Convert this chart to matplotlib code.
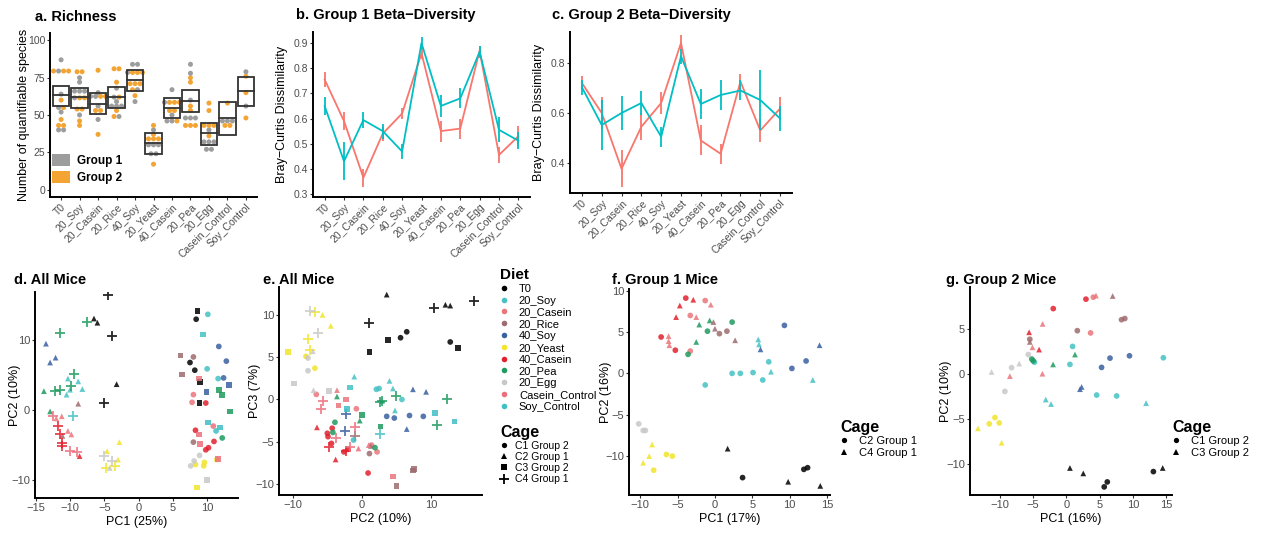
import numpy as np
import matplotlib
matplotlib.use("Agg")
import matplotlib.pyplot as plt
from matplotlib.lines import Line2D
from matplotlib.patches import Patch, Rectangle

plt.rcParams['font.family'] = ['Liberation Sans', 'DejaVu Sans']

W, H = 1266, 534

diets = ["T0", "20_Soy", "20_Casein", "20_Rice", "40_Soy", "20_Yeast",
         "40_Casein", "20_Pea", "20_Egg", "Casein_Control", "Soy_Control"]
diet_colors = ["#000000", "#45C1C3", "#EA767C", "#9E6B6E", "#3A60A0", "#F2E52A",
               "#E3202E", "#1E9A5E", "#C8C8C8", "#EC6E7C", "#3FBFC6"]

# richness per diet, group 1 (grey) and group 2 (orange)
rich_g1 = [[87, 80, 64, 55, 52, 41, 39],
           [75, 72, 66, 66, 66, 61, 50],
           [65, 62, 62, 56, 47],
           [68, 62, 59, 56, 56, 56, 50],
           [85, 83, 78, 68, 59],
           [40, 30, 30, 30, 24, 24],
           [67, 58, 50, 45, 45],
           [84, 78, 60, 48, 48, 48],
           [40, 32, 32, 32, 27, 27],
           [46, 46, 46],
           [79, 56]]
rich_g2 = [[80, 80, 79, 60, 55, 47, 44, 42],
           [80, 78, 62, 62, 54, 54, 46, 43],
           [80, 63, 63, 53, 53, 37],
           [81, 81, 72, 62, 53, 48],
           [79, 79, 79, 72, 70, 70, 66, 63],
           [43, 37, 34, 34, 34, 17],
           [59, 59, 59, 53, 53, 47],
           [75, 72, 56, 53, 43, 43, 43],
           [58, 53, 43, 43, 43, 36],
           [58, 43, 43],
           [76, 65, 48]]
rich_mid = [63.5, 62, 57.4, 62, 73.6, 30.9, 54.5, 59.7, 37.6, 47.7, 65.8]
rich_lo = [56.1, 54.5, 50.5, 54.5, 66.4, 24.0, 47.7, 52.3, 30.2, 36.9, 56.1]
rich_hi = [69.6, 68.0, 64.6, 69.0, 80.4, 38.0, 61.3, 66.9, 44.8, 58.6, 75.5]

# Bray-Curtis dissimilarity, mean and error per diet, two cages per group
g1_red = [0.755, 0.59, 0.365, 0.54, 0.62, 0.86, 0.55, 0.56, 0.87, 0.455, 0.53]
g1_red_err = [0.03, 0.035, 0.036, 0.028, 0.022, 0.025, 0.042, 0.04, 0.02, 0.03, 0.04]
g1_teal = [0.65, 0.43, 0.594, 0.55, 0.469, 0.9, 0.65, 0.68, 0.865, 0.555, 0.512]
g1_teal_err = [0.035, 0.075, 0.03, 0.03, 0.03, 0.025, 0.045, 0.04, 0.025, 0.05, 0.035]
g2_red = [0.72, 0.60, 0.377, 0.545, 0.64, 0.88, 0.49, 0.437, 0.726, 0.53, 0.618]
g2_red_err = [0.028, 0.065, 0.075, 0.055, 0.045, 0.03, 0.06, 0.04, 0.03, 0.045, 0.045]
g2_teal = [0.703, 0.552, 0.60, 0.64, 0.505, 0.827, 0.636, 0.672, 0.69, 0.652, 0.578]
g2_teal_err = [0.03, 0.10, 0.067, 0.047, 0.04, 0.03, 0.06, 0.06, 0.04, 0.12, 0.05]

# PCA scores: (diet, cage, x, y)
pca_all_12 = [
    ("T0", "C4", -4.4, 16.4), ("T0", "C2", -6.5, 13.1), ("T0", "C2", -6.0, 12.5),
    ("T0", "C4", -3.9, 10.6), ("T0", "C2", -3.2, 3.7), ("T0", "C4", -5.1, 1.0),
    ("T0", "C3", 8.6, 14.2), ("T0", "C1", 8.4, 13.0), ("T0", "C1", 7.5, 6.8),
    ("T0", "C1", 8.2, 5.7), ("T0", "C3", 9.0, 4.0), ("T0", "C3", 8.9, 1.0),
    ("20_Pea", "C4", -7.5, 12.6), ("20_Pea", "C4", -11.5, 11.0), ("20_Pea", "C4", -9.4, 5.1),
    ("20_Pea", "C4", -9.9, 3.4), ("20_Pea", "C4", -12.2, 2.7), ("20_Pea", "C4", -11.4, 2.9),
    ("20_Pea", "C2", -13.8, 2.7), ("20_Pea", "C2", -12.9, -0.2), ("20_Pea", "C3", 11.7, 2.9),
    ("20_Pea", "C3", 12.2, 2.1), ("20_Pea", "C3", 13.3, -0.2), ("20_Pea", "C1", 12.2, -4.0),
    ("40_Soy", "C2", -13.5, 9.5), ("40_Soy", "C2", -12.1, 7.5), ("40_Soy", "C2", -12.9, 6.8),
    ("40_Soy", "C1", 11.7, 9.1), ("40_Soy", "C1", 12.8, 7.0), ("40_Soy", "C1", 12.4, 4.6),
    ("40_Soy", "C3", 13.2, 3.6), ("40_Soy", "C3", 9.9, 2.6),
    ("20_Soy", "C2", -10.3, 4.5), ("20_Soy", "C2", -8.8, 4.1), ("20_Soy", "C2", -8.2, 3.0),
    ("20_Soy", "C2", -10.5, 2.2), ("20_Soy", "C2", -10.0, 2.9), ("20_Soy", "C4", -9.5, -0.9),
    ("20_Soy", "C1", 10.1, 13.7), ("20_Soy", "C3", 9.4, 10.8), ("20_Soy", "C1", 10.0, 5.9),
    ("20_Soy", "C1", 11.6, 4.5),
    ("Soy_Control", "C3", 10.1, -1.8), ("Soy_Control", "C3", 11.9, -2.5),
    ("Soy_Control", "C1", 11.3, -3.0),
    ("20_Rice", "C2", -8.8, 0.9), ("20_Rice", "C2", -11.1, -3.7), ("20_Rice", "C3", 6.1, 7.8),
    ("20_Rice", "C1", 8.0, 7.6), ("20_Rice", "C3", 6.3, 5.1), ("20_Rice", "C1", 8.0, -4.6),
    ("40_Casein", "C4", -11.7, -2.3), ("40_Casein", "C4", -11.5, -3.5),
    ("40_Casein", "C4", -11.2, -4.7), ("40_Casein", "C4", -11.2, -5.2),
    ("40_Casein", "C2", -8.6, -6.6), ("40_Casein", "C1", 9.8, 1.0), ("40_Casein", "C1", 8.3, -2.9),
    ("40_Casein", "C1", 11.0, -4.5), ("40_Casein", "C1", 9.8, -5.7), ("40_Casein", "C1", 10.2, -5.4),
    ("20_Casein", "C2", -11.2, -0.9), ("20_Casein", "C2", -12.0, -1.2), ("20_Casein", "C2", -10.3, -3.0),
    ("20_Casein", "C2", -9.8, -3.5), ("20_Casein", "C3", 8.8, 4.5), ("20_Casein", "C1", 8.0, 2.2),
    ("20_Casein", "C1", 7.8, 1.1),
    ("Casein_Control", "C4", -12.5, -0.9), ("Casein_Control", "C4", -10.0, -5.9),
    ("Casein_Control", "C4", -9.0, -6.0), ("Casein_Control", "C3", 8.8, -3.5),
    ("Casein_Control", "C3", 9.0, -4.9), ("Casein_Control", "C1", 10.9, -2.3),
    ("Casein_Control", "C3", 11.6, -7.0),
    ("20_Yeast", "C2", -2.8, -4.6), ("20_Yeast", "C2", -4.6, -5.9), ("20_Yeast", "C2", -3.0, -7.1),
    ("20_Yeast", "C4", -4.7, -8.3), ("20_Yeast", "C4", -3.4, -8.0), ("20_Yeast", "C1", 8.3, -7.8),
    ("20_Yeast", "C1", 9.6, -7.5), ("20_Yeast", "C1", 9.5, -8.0), ("20_Yeast", "C3", 8.5, -11.1),
    ("20_Yeast", "C1", 11.4, -7.1),
    ("20_Egg", "C4", -5.1, -6.6), ("20_Egg", "C4", -3.8, -7.3), ("20_Egg", "C2", -4.2, -8.3),
    ("20_Egg", "C1", 7.6, -8.0), ("20_Egg", "C1", 8.1, -7.3), ("20_Egg", "C1", 8.9, -6.5),
    ("20_Egg", "C3", 10.0, -10.0),
]

pca_all_23 = [
    ("T0", "C2", 3.6, 12.4), ("T0", "C4", 10.4, 10.8), ("T0", "C2", 12.1, 11.2),
    ("T0", "C2", 12.8, 11.1), ("T0", "C4", 16.2, 11.6), ("T0", "C4", 1.1, 9.0),
    ("T0", "C1", 6.5, 8.0), ("T0", "C1", 5.6, 7.3), ("T0", "C3", 3.8, 7.0),
    ("T0", "C3", 1.1, 5.6), ("T0", "C1", 12.8, 6.8), ("T0", "C3", 13.9, 6.1),
    ("20_Egg", "C4", -7.5, 10.5), ("20_Egg", "C4", -6.4, 7.9), ("20_Egg", "C1", -7.8, 4.9),
    ("20_Egg", "C1", -7.8, 3.4), ("20_Egg", "C2", -7.1, 5.7), ("20_Egg", "C3", -9.8, 1.9),
    ("20_Egg", "C3", -4.8, 1.0), ("20_Egg", "C2", -7.0, 1.1),
    ("20_Yeast", "C4", -6.8, 10.4), ("20_Yeast", "C2", -5.7, 10.0), ("20_Yeast", "C2", -4.5, 8.7),
    ("20_Yeast", "C4", -7.8, 7.1), ("20_Yeast", "C4", -7.5, 5.9), ("20_Yeast", "C3", -10.7, 5.6),
    ("20_Yeast", "C1", -6.8, 3.7), ("20_Yeast", "C1", -8.1, 5.1),
    ("20_Soy", "C2", -1.1, 2.7), ("20_Soy", "C2", 4.0, 2.2), ("20_Soy", "C2", 4.5, 1.3),
    ("20_Soy", "C1", 2.1, 1.2), ("20_Soy", "C1", 2.5, 1.3), ("20_Soy", "C2", 2.9, -0.2),
    ("20_Soy", "C2", 4.8, -1.3), ("20_Soy", "C1", 5.8, 0.0), ("20_Soy", "C3", -1.7, 1.4),
    ("20_Soy", "C4", 2.6, -4.1),
    ("Soy_Control", "C3", 10.6, -1.6), ("Soy_Control", "C3", 13.4, -2.6),
    ("Soy_Control", "C1", -1.2, -4.8), ("Soy_Control", "C3", -2.2, -1.1),
    ("40_Soy", "C2", 7.4, 1.2), ("40_Soy", "C2", 9.3, 0.9), ("40_Soy", "C1", 3.6, -2.0),
    ("40_Soy", "C1", 4.7, -2.2), ("40_Soy", "C1", 6.9, -1.9), ("40_Soy", "C1", 8.9, -2.0),
    ("40_Soy", "C2", 6.5, -3.5), ("40_Soy", "C4", -2.3, -1.7), ("40_Soy", "C4", -2.5, -3.7),
    ("20_Pea", "C4", 2.9, -0.2), ("20_Pea", "C4", 2.6, -0.35), ("20_Pea", "C4", 10.9, -3.0),
    ("20_Pea", "C4", 12.4, 0.0), ("20_Pea", "C4", 5.0, 0.4), ("20_Pea", "C3", 0.0, -1.8),
    ("20_Pea", "C3", 2.7, -3.2), ("20_Pea", "C2", -0.3, -2.5), ("20_Pea", "C2", -3.6, 0.35),
    ("20_Pea", "C1", -3.9, -2.7), ("20_Pea", "C1", -4.2, -3.9), ("20_Pea", "C1", 1.9, -5.7),
    ("20_Casein", "C2", -3.6, 1.1), ("20_Casein", "C3", -3.4, -0.7), ("20_Casein", "C3", -2.3, 0.0),
    ("20_Casein", "C1", -0.8, -1.1), ("20_Casein", "C1", 1.4, -5.4), ("20_Casein", "C1", 2.2, -6.2),
    ("20_Casein", "C3", 4.5, -9.1), ("20_Casein", "C1", -6.6, 0.6),
    ("Casein_Control", "C4", -5.7, -0.2), ("Casein_Control", "C4", -5.9, -1.1),
    ("Casein_Control", "C4", -3.7, -4.6), ("Casein_Control", "C4", -1.7, -5.6),
    ("Casein_Control", "C4", -1.0, -3.3), ("Casein_Control", "C2", -0.5, -5.8),
    ("Casein_Control", "C2", 1.0, -5.4),
    ("40_Casein", "C2", -6.5, -3.3), ("40_Casein", "C2", -3.8, -7.1), ("40_Casein", "C1", -5.0, -4.0),
    ("40_Casein", "C1", -4.9, -4.4), ("40_Casein", "C1", -4.3, -3.4), ("40_Casein", "C1", -4.4, -5.2),
    ("40_Casein", "C4", -4.7, -5.6), ("40_Casein", "C4", -2.3, -6.1), ("40_Casein", "C1", -2.6, -6.2),
    ("40_Casein", "C1", -2.0, -5.9), ("40_Casein", "C1", 0.9, -8.7),
    ("20_Rice", "C1", 1.1, -6.4), ("20_Rice", "C3", 5.0, -10.2), ("20_Rice", "C3", 7.5, -8.2),
    ("20_Rice", "C3", 7.4, -8.4), ("20_Rice", "C4", -1.0, -4.3), ("20_Rice", "C2", 1.3, -5.5),
]

pca_g1 = [
    ("40_Casein", "C2", -3.9, 9.1), ("40_Casein", "C4", -2.9, 8.9), ("40_Casein", "C4", -4.7, 8.2),
    ("40_Casein", "C4", -5.2, 6.8), ("40_Casein", "C2", -7.2, 4.4), ("40_Casein", "C2", -5.3, 2.8),
    ("20_Casein", "C2", -1.3, 8.8), ("20_Casein", "C4", -0.55, 8.3), ("20_Casein", "C2", -3.3, 7.0),
    ("20_Casein", "C4", -2.5, 6.8), ("20_Casein", "C4", -6.2, 4.5), ("20_Casein", "C4", -6.2, 3.9),
    ("20_Casein", "C4", -6.1, 3.4), ("20_Casein", "C2", -3.3, 2.7),
    ("20_Pea", "C4", -2.1, 5.9), ("20_Pea", "C4", -0.7, 6.4), ("20_Pea", "C2", -1.0, 5.1),
    ("20_Pea", "C2", 2.3, 6.2), ("20_Pea", "C2", -3.6, 2.3), ("20_Pea", "C4", -2.5, 3.8),
    ("20_Rice", "C4", -0.2, 6.2), ("20_Rice", "C4", 0.0, 5.4), ("20_Rice", "C2", 0.6, 4.8),
    ("20_Rice", "C2", 1.6, 5.1), ("20_Rice", "C4", 2.7, 4.0),
    ("20_Soy", "C2", -1.3, -1.4), ("20_Soy", "C2", 2.3, 0.0), ("20_Soy", "C2", 3.4, 0.0),
    ("20_Soy", "C2", 5.1, 0.1), ("20_Soy", "C2", 6.4, -0.8), ("20_Soy", "C2", 7.2, 1.4),
    ("20_Soy", "C4", 5.8, 4.1), ("20_Soy", "C4", 5.9, 3.5), ("20_Soy", "C4", 7.5, 0.2),
    ("20_Soy", "C4", 13.1, -0.8),
    ("40_Soy", "C4", 6.1, 2.9), ("40_Soy", "C4", 14.0, 3.4), ("40_Soy", "C2", 9.3, 5.8),
    ("40_Soy", "C2", 12.2, 1.5), ("40_Soy", "C2", 10.3, 0.6),
    ("20_Egg", "C2", -10.2, -6.1), ("20_Egg", "C2", -9.6, -6.9), ("20_Egg", "C2", -9.3, -6.9),
    ("20_Yeast", "C4", -8.4, -8.6), ("20_Yeast", "C4", -8.8, -10.0), ("20_Yeast", "C4", -9.6, -10.8),
    ("20_Yeast", "C2", -8.2, -11.7), ("20_Yeast", "C2", -6.5, -9.8), ("20_Yeast", "C2", -5.7, -10.0),
    ("T0", "C4", 1.7, -9.1), ("T0", "C2", 3.7, -12.6), ("T0", "C2", 11.9, -11.6),
    ("T0", "C2", 12.4, -11.4), ("T0", "C4", 9.8, -13.1), ("T0", "C4", 14.1, -13.6),
]

pca_g2 = [
    ("40_Casein", "C1", 2.95, 8.35), ("40_Casein", "C1", -1.97, 7.3), ("40_Casein", "C3", -5.6, 4.67),
    ("40_Casein", "C3", -4.1, 2.75),
    ("20_Casein", "C1", 4.06, 8.57), ("20_Casein", "C3", 4.46, 8.75), ("20_Casein", "C1", 3.65, 4.6),
    ("20_Casein", "C3", -3.57, 5.6), ("20_Casein", "C3", -5.1, 3.0), ("20_Casein", "C3", -3.6, 0.07),
    ("20_Casein", "C3", -8.5, -0.2),
    ("20_Rice", "C3", 6.97, 8.7), ("20_Rice", "C1", 8.3, 6.07), ("20_Rice", "C1", 8.8, 6.2),
    ("20_Rice", "C1", 1.65, 4.85), ("20_Rice", "C1", -5.5, 3.9), ("20_Rice", "C3", -5.5, 3.6),
    ("20_Egg", "C1", -5.73, 2.2), ("20_Egg", "C3", -11.25, 0.26), ("20_Egg", "C1", -8.24, 0.74),
    ("20_Egg", "C3", -7.1, 1.2), ("20_Egg", "C1", -9.25, -1.9),
    ("20_Pea", "C1", -5.2, 1.7), ("20_Pea", "C1", -5.0, 1.5), ("20_Pea", "C3", -2.0, 1.1),
    ("20_Pea", "C3", 1.3, 2.2),
    ("20_Soy", "C1", -4.8, 1.35), ("20_Soy", "C1", 0.94, 3.1), ("20_Soy", "C1", 0.54, 1.1),
    ("20_Soy", "C1", 4.56, -2.3), ("20_Soy", "C1", 7.57, -2.4), ("20_Soy", "C3", 12.0, -3.2),
    ("20_Soy", "C3", -3.1, -2.8), ("20_Soy", "C3", -2.3, -3.3), ("20_Soy", "C1", 14.6, 1.84),
    ("40_Soy", "C1", 6.57, 1.8), ("40_Soy", "C1", 9.5, 2.06), ("40_Soy", "C1", 5.3, 0.77),
    ("40_Soy", "C3", 2.3, -1.4), ("40_Soy", "C3", 2.05, -1.65),
    ("20_Yeast", "C3", -13.3, -6.0), ("20_Yeast", "C1", -11.6, -5.5), ("20_Yeast", "C1", -10.75, -4.8),
    ("20_Yeast", "C1", -10.1, -5.4), ("20_Yeast", "C3", -9.75, -7.6),
    ("T0", "C3", 0.54, -10.4), ("T0", "C3", 2.55, -11.0), ("T0", "C1", 5.7, -12.5),
    ("T0", "C1", 6.16, -11.95), ("T0", "C1", 13.1, -10.8), ("T0", "C3", 14.5, -10.4),
]

GREY, ORANGE = "#9D9D9D", "#F4A432"
RED, TEAL = "#F8766D", "#00BFC4"
TICK_C = "#4D4D4D"

fig = plt.figure(figsize=(W / 100, H / 100), dpi=100)


def px_axes(left, top, right, bottom):
    return fig.add_axes([left / W, 1 - bottom / H, (right - left) / W, (bottom - top) / H])


def classic(ax, size=8):
    for s in ("top", "right"):
        ax.spines[s].set_visible(False)
    for s in ("left", "bottom"):
        ax.spines[s].set_linewidth(1.4)
        ax.spines[s].set_color("black")
    ax.tick_params(length=2.5, width=0.8, color="#333333", labelcolor=TICK_C,
                   labelsize=size, pad=1)


def category_axis(ax):
    ax.set_xticks(range(len(diets)))
    ax.set_xticklabels(diets, rotation=45, ha="right", rotation_mode="anchor")
    ax.set_xlim(-0.6, len(diets) - 0.4)


def set_ylabel(ax, text, right_px, left_px, width_px):
    # place the y title by its right edge, in pixels
    ax.set_ylabel(text, fontsize=9)
    ax.yaxis.set_label_coords((right_px - left_px) / width_px, 0.5)


def dot_stack(g1, g2, bw):
    # ggplot-like dot density binning, groups stacked together within a bin
    vals = np.array(g1 + g2, float)
    grp = np.array([0] * len(g1) + [1] * len(g2))
    order = np.argsort(vals, kind="stable")
    xs, ys, gs = [], [], []
    i = 0
    while i < len(order):
        start = vals[order[i]]
        j = i
        while j < len(order) and vals[order[j]] < start + bw:
            j += 1
        members = order[i:j]
        centre = (vals[members].min() + vals[members].max()) / 2
        n = len(members)
        for k, m in enumerate(members):
            xs.append(k - (n - 1) / 2)
            ys.append(centre)
            gs.append(grp[m])
        i = j
    return np.array(xs), np.array(ys), np.array(gs)


# a. richness
ax = px_axes(50, 33, 257, 197)
classic(ax, 7.5)
category_axis(ax)
for i in range(len(diets)):
    dx, dy, dg = dot_stack(rich_g1[i], rich_g2[i], 2.6)
    cols = np.where(dg == 0, GREY, ORANGE)
    ax.scatter(i + dx * 0.27, dy, s=13, c=cols, edgecolors="none", zorder=2)
    ax.add_patch(Rectangle((i - 0.45, rich_lo[i]), 0.9, rich_hi[i] - rich_lo[i],
                           fill=False, ec="#333333", lw=1.3, zorder=3))
    ax.plot([i - 0.45, i + 0.45], [rich_mid[i]] * 2, color="#333333", lw=1.3, zorder=3)
ax.set_ylim(-5, 105)
ax.set_yticks([0, 25, 50, 75, 100])
set_ylabel(ax, "Number of quantifiable species", 30, 50, 207)
ax.legend(handles=[Patch(fc=GREY, ec="none", label="Group 1"),
                   Patch(fc=ORANGE, ec="none", label="Group 2")],
          loc="lower left", bbox_to_anchor=(0.01, 0.08), frameon=False,
          prop={"weight": "bold", "size": 8.5}, handlelength=1.5, handleheight=1.1,
          labelspacing=0.35, handletextpad=0.6, borderaxespad=0, borderpad=0)


def beta_panel(ax, red, red_err, teal, teal_err):
    x = np.arange(len(diets))
    for vals, err, col in ((red, red_err, RED), (teal, teal_err, TEAL)):
        vals, err = np.array(vals), np.array(err)
        ax.plot(x, vals, color=col, lw=1.3)
        ax.vlines(x, vals - err, vals + err, color=col, lw=1.3)
    classic(ax, 7.5)
    category_axis(ax)


# b. and c. beta diversity
ax = px_axes(313, 32, 530, 197)
beta_panel(ax, g1_red, g1_red_err, g1_teal, g1_teal_err)
ax.set_ylim(0.288, 0.944)
ax.set_yticks([0.3, 0.4, 0.5, 0.6, 0.7, 0.8, 0.9])
set_ylabel(ax, "Bray\u2212Curtis Dissimilarity", 288, 313, 217)

ax = px_axes(570, 32, 792, 193)
beta_panel(ax, g2_red, g2_red_err, g2_teal, g2_teal_err)
ax.set_ylim(0.28, 0.924)
ax.set_yticks([0.4, 0.6, 0.8])
set_ylabel(ax, "Bray\u2212Curtis Dissimilarity", 545, 570, 222)


def pca_panel(ax, pts, shapes):
    for diet, col in zip(diets, diet_colors):
        for cage, mk in shapes.items():
            sel = [(x, y) for d, c, x, y in pts if d == diet and c == cage]
            if not sel:
                continue
            xs, ys = zip(*sel)
            if mk == "+":
                ax.scatter(xs, ys, marker="+", s=48, c=col, linewidths=1.3, alpha=0.85)
            else:
                ax.scatter(xs, ys, marker=mk, s=17, c=col, edgecolors="none", alpha=0.85)
    classic(ax, 8)


all_shapes = {"C1": "o", "C2": "^", "C3": "s", "C4": "+"}

# d. all mice PC1/PC2
ax = px_axes(35, 292, 238, 498)
pca_panel(ax, pca_all_12, all_shapes)
ax.set_xlim(-15.1, 14.5)
ax.set_ylim(-12.6, 16.9)
ax.set_xticks([-15, -10, -5, 0, 5, 10])
ax.set_yticks([-10, 0, 10])
ax.set_xlabel("PC1 (25%)", fontsize=9, labelpad=2)
set_ylabel(ax, "PC2 (10%)", 21, 35, 203)

# e. all mice PC2/PC3
ax = px_axes(279, 287, 482, 495)
pca_panel(ax, pca_all_23, all_shapes)
ax.set_xlim(-12.0, 17.4)
ax.set_ylim(-11.3, 13.3)
ax.set_xticks([-10, 0, 10])
ax.set_yticks([-10, -5, 0, 5, 10])
ax.set_xlabel("PC2 (10%)", fontsize=9, labelpad=2)
set_ylabel(ax, "PC3 (7%)", 261, 279, 203)

# f. group 1 mice
ax = px_axes(629, 289, 830, 495)
pca_panel(ax, pca_g1, {"C2": "o", "C4": "^"})
ax.set_xlim(-11.5, 15.4)
ax.set_ylim(-14.7, 10.2)
ax.set_xticks([-10, -5, 0, 5, 10, 15])
ax.set_yticks([-10, -5, 0, 5, 10])
ax.set_xlabel("PC1 (17%)", fontsize=9, labelpad=2)
set_ylabel(ax, "PC2 (16%)", 612, 629, 201)

# g. group 2 mice
ax = px_axes(970, 287, 1172, 495)
pca_panel(ax, pca_g2, {"C1": "o", "C3": "^"})
ax.set_xlim(-14.5, 15.9)
ax.set_ylim(-13.4, 9.7)
ax.set_xticks([-10, -5, 0, 5, 10, 15])
ax.set_yticks([-10, -5, 0, 5])
ax.set_xlabel("PC1 (16%)", fontsize=9, labelpad=2)
set_ylabel(ax, "PC2 (10%)", 952, 970, 202)


def side_legend(handles, labels, title, x, y, size, title_size, spacing, textpad):
    leg = fig.legend(handles, labels, title=title, loc="upper left",
                     bbox_to_anchor=(x / W, 1 - y / H), frameon=False, fontsize=size,
                     title_fontproperties={"weight": "bold", "size": title_size},
                     handlelength=0.8, handletextpad=textpad, labelspacing=spacing,
                     borderpad=0, borderaxespad=0)
    leg._legend_box.align = "left"
    return leg


diet_handles = [Line2D([], [], ls="", marker="o", markersize=4, color=c, markeredgewidth=0)
                for c in diet_colors]
side_legend(diet_handles, diets, "Diet", 500, 268, 8, 11, 0.16, 0.9)


def cage_handles(markers):
    out = []
    for mk in markers:
        if mk == "+":
            out.append(Line2D([], [], ls="", marker="+", markersize=7, color="black", markeredgewidth=1.3))
        else:
            out.append(Line2D([], [], ls="", marker=mk, markersize=3.8, color="black", markeredgewidth=0))
    return out


side_legend(cage_handles(["o", "^", "s", "+"]),
            ["C1 Group 2", "C2 Group 1", "C3 Group 2", "C4 Group 1"], "Cage", 500, 425, 7.5, 11.5,
            0.1, 0.6)
side_legend(cage_handles(["o", "^"]), ["C2 Group 1", "C4 Group 1"], "Cage", 840, 420, 8, 11.5,
            0.12, 0.9)
side_legend(cage_handles(["o", "^"]), ["C1 Group 2", "C3 Group 2"], "Cage", 1172, 420, 8, 11.5,
            0.12, 0.9)

# panel titles
titles = [("a. Richness", 35, 21), ("b. Group 1 Beta\u2212Diversity", 296, 19),
          ("c. Group 2 Beta\u2212Diversity", 552, 19), ("d. All Mice", 14, 284),
          ("e. All Mice", 263, 284), ("f. Group 1 Mice", 612, 284),
          ("g. Group 2 Mice", 946, 284)]
for text, x, y in titles:
    fig.text(x / W, 1 - y / H, text, fontsize=10.5, fontweight="bold", va="baseline")

fig.savefig("out.png", dpi=100)
